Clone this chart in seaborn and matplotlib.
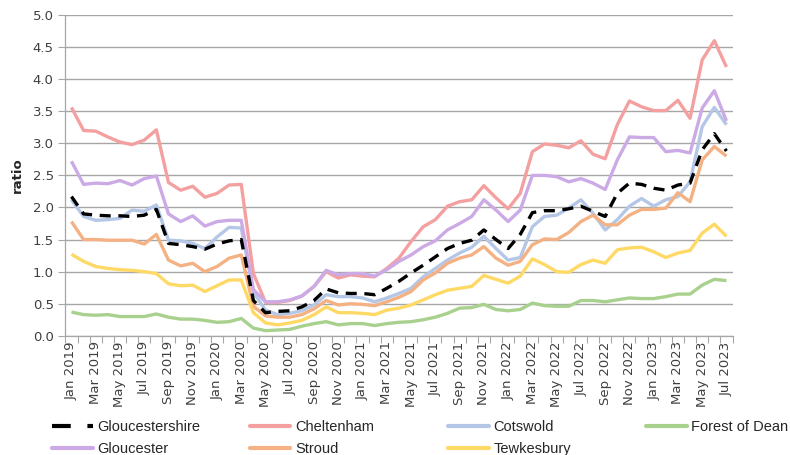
import matplotlib
matplotlib.use('Agg')
import matplotlib.pyplot as plt
import matplotlib.lines as mlines
import numpy as np
import pandas as pd
import seaborn as sns

# monthly labels Jan 2019 .. Jul 2023
months = pd.date_range('2019-01-01', '2023-07-01', freq='MS').strftime('%b %Y').tolist()

gloucestershire = [2.17, 1.90, 1.88, 1.87, 1.87, 1.86, 1.88, 1.97, 1.44, 1.42, 1.39,
                   1.35, 1.43, 1.48, 1.50, 0.55,
                   0.36, 0.38, 0.39, 0.45, 0.55, 0.73,
                   0.67, 0.66, 0.66, 0.64, 0.74, 0.85, 0.98, 1.10, 1.23, 1.36, 1.44,
                   1.49, 1.65, 1.50, 1.36, 1.58,
                   1.92, 1.95, 1.95, 1.98, 2.02,
                   1.94, 1.86, 2.22, 2.38, 2.36, 2.30, 2.27, 2.35, 2.38, 2.90, 3.15, 2.88]
cheltenham = [3.56, 3.20, 3.19, 3.10, 3.02, 2.98, 3.05, 3.21, 2.39, 2.27, 2.33,
              2.16, 2.22, 2.35, 2.36, 0.97,
              0.52, 0.52, 0.55, 0.62, 0.77, 1.00,
              0.90, 0.95, 0.93, 0.92, 1.05, 1.21, 1.47, 1.70, 1.81, 2.02, 2.09,
              2.12, 2.34, 2.15, 1.98, 2.22,
              2.87, 2.99, 2.97, 2.93, 3.04,
              2.83, 2.76, 3.29, 3.66, 3.57, 3.51, 3.51, 3.67, 3.39, 4.30, 4.60, 4.19]
cotswold = [2.12, 1.86, 1.80, 1.81, 1.83, 1.96, 1.94, 2.04, 1.49, 1.48, 1.44,
            1.36, 1.54, 1.69, 1.68, 0.68,
            0.40, 0.33, 0.35, 0.39, 0.48, 0.64,
            0.61, 0.61, 0.59, 0.53, 0.59, 0.66, 0.74, 0.92, 1.05, 1.18, 1.29,
            1.38, 1.55, 1.36, 1.18, 1.22,
            1.70, 1.86, 1.88, 1.99, 2.12,
            1.91, 1.65, 1.81, 2.02, 2.14, 2.02, 2.12, 2.17, 2.40, 3.26, 3.56, 3.29]
forest_of_dean = [0.37, 0.33, 0.32, 0.33, 0.30, 0.30, 0.30, 0.34, 0.29, 0.26, 0.26,
                  0.24, 0.21, 0.22, 0.27, 0.12,
                  0.08, 0.09, 0.10, 0.15, 0.19, 0.22,
                  0.17, 0.19, 0.19, 0.16, 0.19, 0.21, 0.22, 0.25, 0.29, 0.35, 0.43,
                  0.44, 0.49, 0.41, 0.39, 0.41,
                  0.51, 0.47, 0.46, 0.46, 0.55,
                  0.55, 0.53, 0.56, 0.59, 0.58, 0.58, 0.61, 0.65, 0.65, 0.79, 0.88, 0.86]
gloucester = [2.72, 2.36, 2.38, 2.37, 2.42, 2.35, 2.45, 2.49, 1.90, 1.78, 1.87,
              1.71, 1.78, 1.80, 1.80, 0.72,
              0.53, 0.53, 0.56, 0.62, 0.77, 1.02,
              0.95, 0.97, 0.97, 0.93, 1.03, 1.16, 1.26, 1.39, 1.48, 1.65, 1.75,
              1.86, 2.12, 1.96, 1.78, 1.96,
              2.50, 2.50, 2.48, 2.40, 2.45,
              2.38, 2.28, 2.74, 3.10, 3.09, 3.09, 2.87, 2.89, 2.85, 3.55, 3.82, 3.35]
stroud = [1.78, 1.50, 1.50, 1.49, 1.49, 1.49, 1.43, 1.58, 1.18, 1.09, 1.13,
          1.00, 1.08, 1.21, 1.26, 0.46,
          0.31, 0.29, 0.29, 0.33, 0.42, 0.55,
          0.48, 0.50, 0.49, 0.47, 0.53, 0.60, 0.69, 0.87, 0.98, 1.13, 1.21,
          1.26, 1.39, 1.21, 1.10, 1.16,
          1.42, 1.51, 1.50, 1.61, 1.78,
          1.88, 1.73, 1.73, 1.88, 1.97, 1.97, 1.99, 2.23, 2.09, 2.74, 2.95, 2.80]
tewkesbury = [1.27, 1.16, 1.08, 1.05, 1.03, 1.02, 1.00, 0.97, 0.81, 0.78, 0.79,
              0.69, 0.78, 0.87, 0.87, 0.36,
              0.20, 0.17, 0.20, 0.24, 0.33, 0.45,
              0.36, 0.36, 0.35, 0.33, 0.40, 0.43, 0.48, 0.56, 0.64, 0.71, 0.74,
              0.77, 0.94, 0.88, 0.82, 0.93,
              1.20, 1.11, 1.00, 0.99, 1.11,
              1.18, 1.13, 1.34, 1.37, 1.38, 1.31, 1.22, 1.29, 1.33, 1.60, 1.74, 1.55]

areas = ['Gloucestershire', 'Cheltenham', 'Cotswold', 'Forest of Dean',
         'Gloucester', 'Stroud', 'Tewkesbury']
series = [gloucestershire, cheltenham, cotswold, forest_of_dean,
          gloucester, stroud, tewkesbury]
colors = {'Gloucestershire': '#000000', 'Cheltenham': '#F4A0A0', 'Cotswold': '#B4C7E7',
          'Forest of Dean': '#A9D18E', 'Gloucester': '#CBAAE6', 'Stroud': '#F4B183',
          'Tewkesbury': '#FFD966'}

rows = []
for name, vals in zip(areas, series):
    for i, v in enumerate(vals):
        rows.append({'idx': i, 'ratio': v, 'area': name})
df = pd.DataFrame(rows)

sns.set_theme(style="white")
plt.rcParams['font.family'] = ['DejaVu Sans']

fig = plt.figure(figsize=(7.9, 4.55), dpi=100)
ax = fig.add_axes([0.082, 0.262, 0.846, 0.705])

# draw the coloured areas first, county total (dashed black) on top
draw_order = areas[1:] + areas[:1]
dashes = {a: '' for a in areas}
dashes['Gloucestershire'] = (3.3, 2.3)
sns.lineplot(data=df, x='idx', y='ratio', hue='area', style='area', hue_order=draw_order,
             style_order=draw_order, palette=colors, dashes=dashes, linewidth=2.4,
             legend=False, ax=ax)
for line in ax.lines:
    line.set_solid_capstyle('butt')

ax.set_xlim(-0.55, len(months) - 0.45)
ax.set_ylim(0, 5.0)
ax.set_yticks(np.arange(0, 5.01, 0.5))
ax.set_yticklabels([f'{v:.1f}' for v in np.arange(0, 5.01, 0.5)], fontsize=9.5, color='#404040')
ax.set_xticks(range(0, len(months), 2))
ax.set_xticklabels(months[::2], rotation=90, fontsize=9.5, color='#404040')
ax.set_xticks(np.arange(-0.5, len(months), 1), minor=True)
ax.tick_params(axis='x', which='major', length=0, pad=4)
ax.tick_params(axis='x', which='minor', length=5, color='#A6A6A6', width=0.8, bottom=True)
ax.tick_params(axis='y', length=5, color='#A6A6A6', width=0.8, left=True, pad=3)
ax.yaxis.grid(True, color='#A6A6A6', linewidth=1)
ax.xaxis.grid(False)
ax.set_xlabel('')
ax.set_ylabel('ratio', fontsize=9.5, fontweight='bold', color='#262626', labelpad=6)
for side in ['top', 'right']:
    ax.spines[side].set_visible(False)
for side in ['left', 'bottom']:
    ax.spines[side].set_color('#A6A6A6')
    ax.spines[side].set_linewidth(0.9)

# legend: two rows of four, fixed column positions like the original
legend_cols = [['Gloucestershire', 'Gloucester'], ['Cheltenham', 'Stroud'],
               ['Cotswold', 'Tewkesbury'], ['Forest of Dean']]
col_x = [0.066, 0.316, 0.567, 0.818]
legend_top = 1 - 420 / 455
for names, x in zip(legend_cols, col_x):
    handles = []
    for name in names:
        if name == 'Gloucestershire':
            h = mlines.Line2D([], [], color='black', linewidth=3, linestyle=(0, (4.5, 4.0)), label=name)
        else:
            h = mlines.Line2D([], [], color=colors[name], linewidth=3, label=name)
        handles.append(h)
    fig.legend(handles=handles, loc='upper left', bbox_to_anchor=(x, legend_top),
               bbox_transform=fig.transFigure, frameon=False, borderpad=0, borderaxespad=0,
               handlelength=2.8, handletextpad=0.3, labelspacing=0.55,
               prop={'family': ['Liberation Sans', 'DejaVu Sans'], 'size': 10.5})

fig.savefig('out.png', dpi=100)
plt.close(fig)
